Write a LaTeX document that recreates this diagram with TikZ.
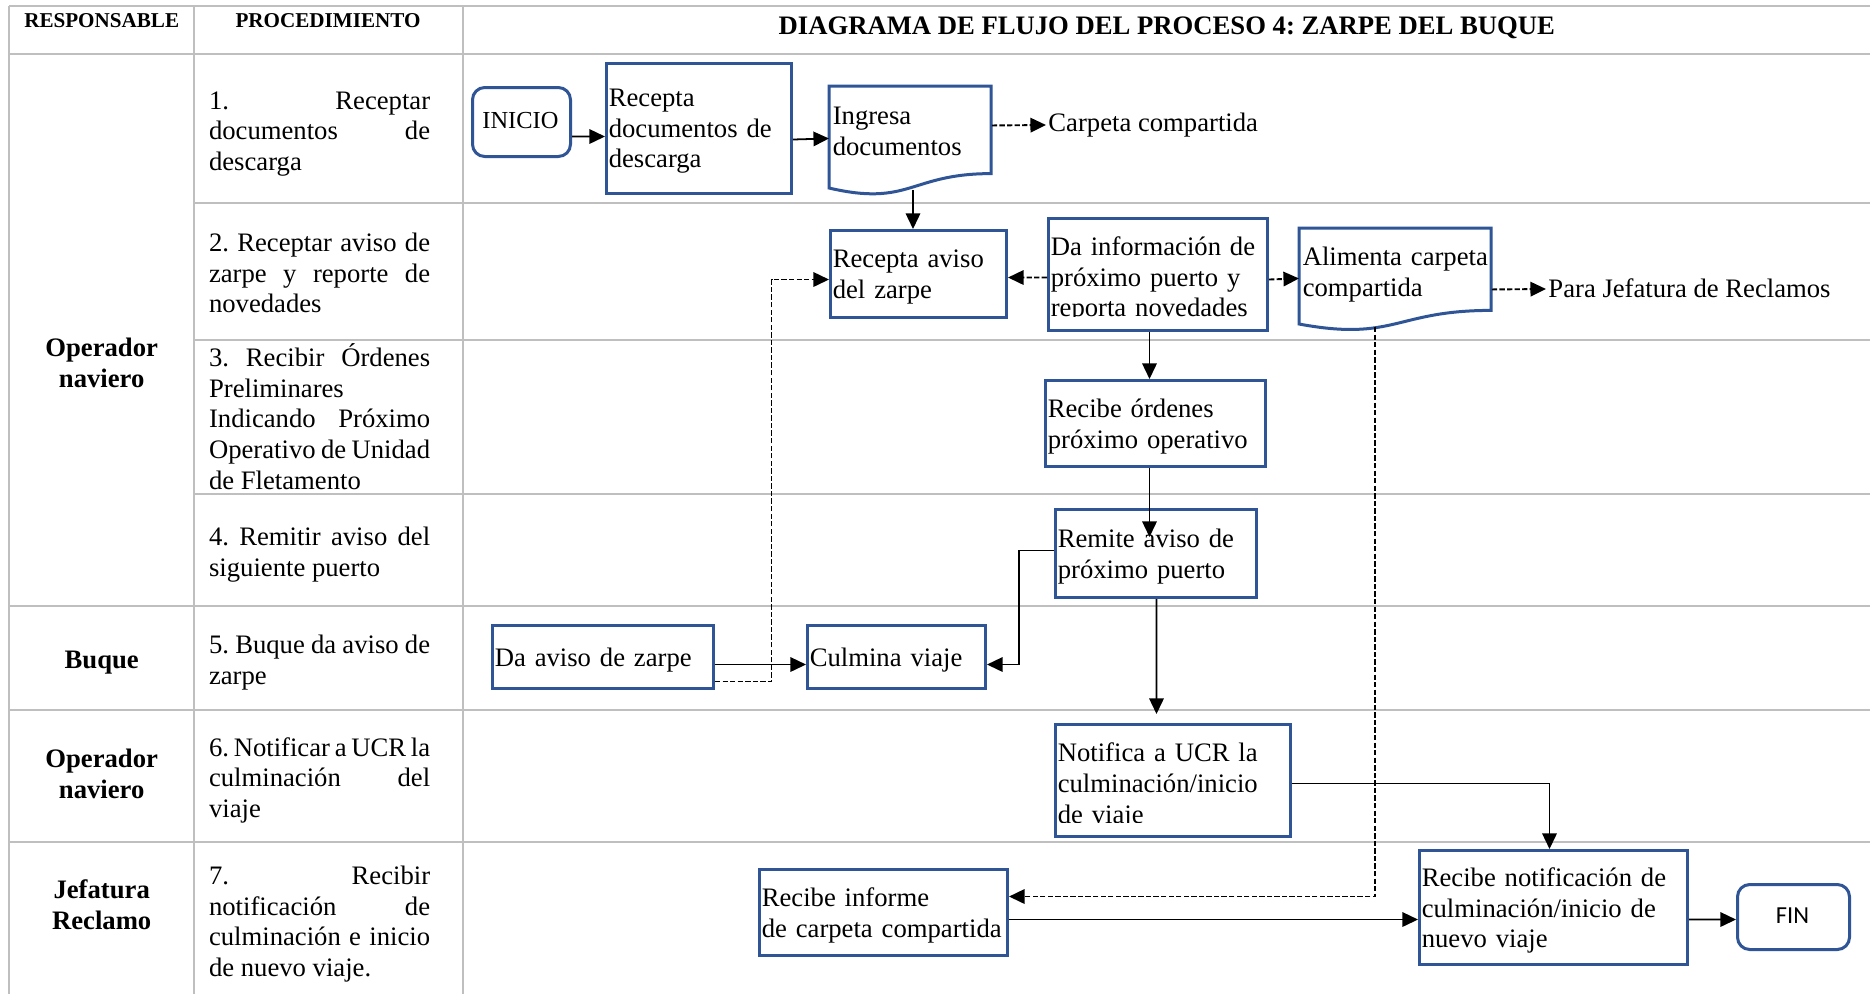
\documentclass[tikz,border=0pt]{standalone}
\usepackage{fontspec}
\setmainfont{Liberation Serif}
\newfontfamily\finfont{Carlito}
\usetikzlibrary{arrows.meta,calc}

\definecolor{boxblue}{RGB}{47,85,151}
\definecolor{gridgray}{RGB}{191,191,191}

\frenchspacing
\newcommand\bodyfont{\fontsize{12}{13.8}\selectfont}
% one justified line of a procedure text
\newcommand\jl[1]{\makebox[\linewidth][s]{\strut#1}\par}
% procedure text, centred in its table cell
\newcommand\proctext[3]{\node[proc] (#1) at (319.6,#2) {\parbox{99.5pt}{\bodyfont#3}};}
% frame of a process box given by its corners (in px)
\newcommand\shapeframe[6][]{%
  \pgfmathsetmacro\shpw{(#5-#3)*0.45}%
  \pgfmathsetmacro\shph{(#6-#4)*0.45}%
  \node[pbox,minimum width=\shpw pt,minimum height=\shph pt,#1] (#2) at (#3,#4) {};}
% left-aligned text block filling the same rectangle
\newcommand\shapetext[7][]{%
  \pgfmathsetmacro\shpw{(#5-#3)*0.45}%
  \pgfmathsetmacro\shph{(#6-#4)*0.45}%
  \pgfmathsetmacro\shptw{(#5-#3)*0.45-3}%
  \node[ptext,minimum width=\shpw pt,minimum height=\shph pt,text width=\shptw pt,#1,tshift] (#2) at (#3,#4) {#7};}
% framed box with its text
\newcommand\flowbox[7][]{%
  \shapeframe[#1]{#2}{#3}{#4}{#5}{#6}%
  \shapetext[#1]{#2-t}{#3}{#4}{#5}{#6}{#7}}

\begin{document}
\begin{tikzpicture}[x=0.45pt,y=-0.45pt,
  grid/.style={draw=gridgray,line width=0.9pt},
  pbox/.style={draw=boxblue,line width=1.35pt,fill=white,inner sep=0pt,anchor=north west},
  ptext/.style={inner xsep=1.5pt,inner ysep=0pt,align=left,font=\bodyfont,anchor=north west},
  tshift/.style={yshift=-1.8pt},
  term/.style={rounded corners=5.5pt,align=center,font=\fontsize{11}{13}\selectfont,
    tshift/.style={yshift=0pt}},
  docline/.style={draw=boxblue,line width=1.35pt,fill=white},
  con/.style={line width=0.8pt,-{Triangle[length=7pt,width=6.5pt]}},
  dcon/.style={con,line width=0.85pt,dash pattern=on 2.4pt off 1pt},
  proc/.style={inner sep=0pt},
  role/.style={font=\bodyfont\bfseries,align=center,inner sep=0pt},
  head/.style={font=\fontsize{9.5}{11}\selectfont\bfseries,inner sep=0pt,anchor=base},
  lbl/.style={font=\bodyfont,inner sep=0pt,anchor=base west}]
\useasboundingbox (0,0) rectangle (1870,994);
\fill[white] (0,0) rectangle (1870,994);

% table grid
\draw[grid] (9,6) -- (1870,6);
\draw[grid] (9,54) -- (1870,54);
\draw[grid] (194,203) -- (1870,203);
\draw[grid] (194,340) -- (1870,340);
\draw[grid] (194,494) -- (1870,494);
\draw[grid] (9,606) -- (1870,606);
\draw[grid] (9,710) -- (1870,710);
\draw[grid] (9,842) -- (1870,842);
\draw[grid] (9,6) -- (9,994);
\draw[grid] (194,6) -- (194,994);
\draw[grid] (463,6) -- (463,994);

% headings
\node[head] (h1) at (101.7,27.3) {RESPONSABLE};
\node[head] (h2) at (328,27.3) {PROCEDIMIENTO};
\node[head,font=\fontsize{12}{14}\selectfont\bfseries] (h3) at (1166.8,34)
  {DIAGRAMA DE FLUJO DEL PROCESO 4: ZARPE DEL BUQUE};

% responsible parties
\node[role] (r1) at (101.7,363) {Operador\\naviero};
\node[role] (r2) at (101.7,662.5) {Buque};
\node[role] (r3) at (101.7,774) {Operador\\naviero};
\node[role] (r4) at (101.7,905) {Jefatura\\Reclamo};

% procedure steps
\proctext{p1}{133.6}{\jl{1. Receptar}\jl{documentos de}\strut descarga}
\proctext{p2}{276.1}{\jl{2. Receptar aviso de}\jl{zarpe y reporte de}\strut novedades}
\proctext{p3}{421}{\jl{3. Recibir Órdenes}\strut Preliminares\par\jl{Indicando Próximo}\jl{Operativo de Unidad}\strut de Fletamento}
\proctext{p4}{554.6}{\jl{4. Remitir aviso del}\strut siguiente puerto}
\proctext{p5}{663.1}{\jl{5. Buque da aviso de}\strut zarpe}
\proctext{p6}{780.6}{\jl{6. Notificar a UCR la}\jl{culminación del}\strut viaje}
\proctext{p7}{924.5}{\jl{7. Recibir}\jl{notificación de}\jl{culminación e inicio}\strut de nuevo viaje.}

% flow chart shapes
\flowbox[term]{inicio}{471}{86}{569}{155}{INICIO}
\flowbox{recdoc}{605}{62}{790}{192}{Recepta\\documentos de\\descarga}
\draw[docline] (829,86) -- (991,86) -- (991,173.6) .. controls (910,173.6) and (910,206.9) .. (829,188) -- cycle;
\shapetext[tshift/.style={yshift=-0.5pt}]{ingresa}{829}{86}{991}{173.6}{Ingresa\\documentos}
\coordinate (ingresa-b) at (913,190);
\node[lbl] (carpeta) at (1048,131) {Carpeta compartida};

\flowbox{recaviso}{829}{229}{1005}{316}{Recepta aviso\\del zarpe}
\shapeframe{dainfo}{1047}{217}{1266}{329}
\begin{scope}
  \clip (1047,217) rectangle (1266,316.7);
  \shapetext[tshift/.style={yshift=-2.7pt}]{dainfo-t}{1047}{217}{1266}{329}{Da información de\\próximo puerto y\\reporta novedades}
\end{scope}
\draw[docline] (1299,228) -- (1491,228) -- (1491,310.4) .. controls (1395,310.4) and (1395,341.8) .. (1299,324) -- cycle;
\shapetext[tshift/.style={yshift=-2.25pt}]{alimenta}{1299}{228}{1491}{310.4}{Alimenta carpeta\\compartida}
\coordinate (alim-b) at (1375,327);
\node[lbl] (para) at (1548,297.5) {Para Jefatura de Reclamos};

\flowbox{record}{1044}{379}{1264}{465}{Recibe órdenes\\próximo operativo}
\flowbox{remite}{1054}{508}{1255}{596}{Remite aviso de\\próximo puerto}
\flowbox{daaviso}{491}{624}{712}{687}{Da aviso de zarpe}
\flowbox{culmina}{806}{624}{984}{687}{Culmina viaje}
\shapeframe{notifica}{1054}{723}{1289}{835}
\begin{scope}
  \clip (1054,723) rectangle (1289,822.7);
  \shapetext[tshift/.style={yshift=-2.9pt}]{notifica-t}{1054}{723}{1289}{835}{Notifica a UCR la\\culminación/inicio\\de viaje}
\end{scope}
\flowbox{recinf}{758}{868}{1006}{954}{Recibe informe\\\mbox{de carpeta compartida}}
\flowbox{recnot}{1418}{849}{1686}{963}{Recibe notificación de\\culminación/inicio de\\nuevo viaje}
\flowbox[term,font=\finfont\fontsize{11}{13}\selectfont]{fin}{1736}{883}{1848}{948}{FIN}

% connectors
\draw[con] ($(inicio.east)+(0,14.5)$) -- ($(recdoc.west)+(0,8)$);
\draw[con] ($(recdoc.east)+(0,11)$) -- ($(ingresa.west)+(0,7.1)$);
\draw[dcon] ($(ingresa.east)+(0,-5.9)$) -- ($(carpeta.base west)+(-2,-6)$);
\draw[con] (ingresa-b) -- (ingresa-b |- recaviso.north);
\draw[dcon] ($(dainfo.west)+(0,3)$) -- ($(recaviso.east)+(0,3.5)$);
\draw[dcon] ($(dainfo.east)+(0,5)$) -- ($(alimenta.west)+(0,3.8)$);
\draw[dcon] ($(alimenta.east)+(0,14.8)$) -- ($(para.base west)+(-2,-8.5)$);
\draw[con] ($(dainfo.south)+(-8.5,0)$) -- ($(record.north)+(-6,0)$);
\draw[con] ($(record.south)+(-6,0)$) -- ($(remite.north)+(-6.5,29)$);
\draw[con] ($(remite.west)+(0,-3)$) -| ($(culmina.east)+(32,7.5)$) -- ($(culmina.east)+(0,7.5)$);
\draw[con] ($(daaviso.east)+(0,7.5)$) -- ($(culmina.west)+(0,7.5)$);
\draw[dcon] ($(daaviso.east)+(0,24.5)$) -| ($(recaviso.west)+(-57.5,5.5)$) -- ($(recaviso.west)+(0,5.5)$);
\draw[con] ($(remite.south)+(0.5,0)$) -- ($(notifica.north)+(-16.5,-9)$);
\draw[con] ($(notifica.east)+(0,3)$) -| ($(recnot.north)+(-4,0)$);
\draw[dcon] (alim-b) |- ($(recinf.east)+(0,-16)$);
\draw[con] ($(recinf.east)+(0,7)$) -- ($(recnot.west)+(0,12)$);
\draw[con] ($(recnot.east)+(0,12)$) -- ($(fin.west)+(0,2.5)$);
\end{tikzpicture}
\end{document}
